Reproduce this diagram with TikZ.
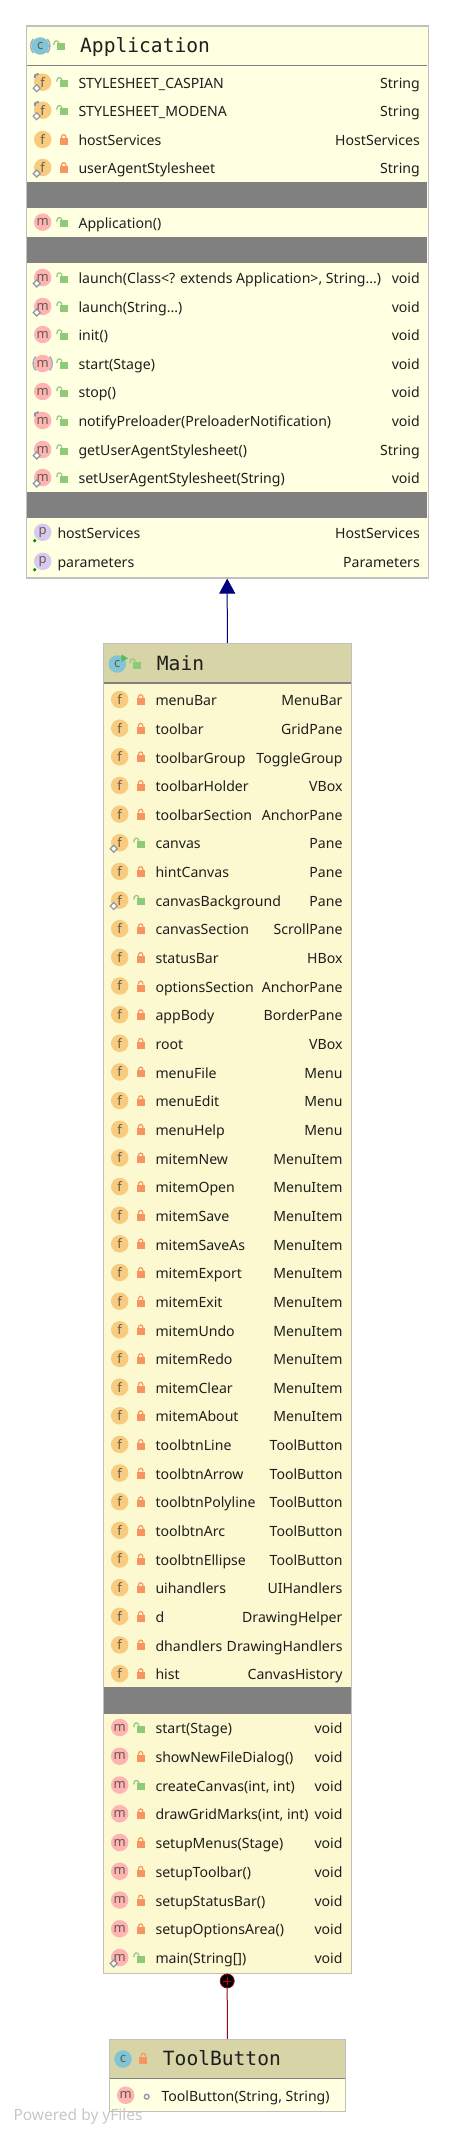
\documentclass[tikz,border=0pt]{standalone}
\usepackage{fontspec}
\usepackage{tikz}
\usetikzlibrary{arrows.meta}
\setmainfont{Noto Sans}
\setmonofont{DejaVu Sans Mono}

\definecolor{boxpale}{HTML}{FFFFE2}
\definecolor{boxcream}{HTML}{FCF9D0}
\definecolor{boxhead}{HTML}{D7D4A8}
\definecolor{boxedge}{HTML}{C0C0C0}
\definecolor{barfill}{HTML}{808080}
\definecolor{iconf}{HTML}{F8CB7E}
\definecolor{iconm}{HTML}{FFB3B3}
\definecolor{iconp}{HTML}{D8C9F0}
\definecolor{iconc}{HTML}{7FC5D5}
\definecolor{icontext}{HTML}{665C50}
\definecolor{lockgreen}{HTML}{8FC97A}
\definecolor{lockorange}{HTML}{F79560}
\definecolor{markgray}{HTML}{8C96A8}
\definecolor{inkdark}{HTML}{1E1E1E}
\definecolor{linkred}{HTML}{8B0A14}
\definecolor{linknavy}{HTML}{000080}
\definecolor{rungreen}{HTML}{5FB85F}

\tikzset{
    classbox/.style = {draw = boxedge, line width = 1.2pt, inner sep = 0pt},
    classtitle/.style = {anchor = base west, inner sep = 0pt, text = inkdark, font = \ttfamily\fontsize{19.6}{20}\selectfont},
    membername/.style = {anchor = base west, inner sep = 0pt, text = inkdark, font = \fontsize{14.1}{16}\selectfont},
    membertype/.style = {anchor = base east, inner sep = 0pt, text = inkdark, font = \fontsize{14.1}{16}\selectfont},
    icon/.style = {circle, fill = icon#1, minimum size = 17.5pt, inner sep = 0pt, text = icontext, font = \fontsize{13}{13}\selectfont},
    openlock/.pic = {
        \fill [lockgreen] (-4, -3.5) rectangle (4, 3.5);
        \draw [lockgreen, line width = 1.2pt] (-7, -2) .. controls (-7, -7) and (-2.5, -7.5) .. (-1.7, -3.5);
    },
    shutlock/.pic = {
        \fill [lockorange] (-4, -3) rectangle (4, 4);
        \draw [lockorange, line width = 1.2pt] (-2.4, -3) .. controls (-2.4, -7.5) and (2.4, -7.5) .. (2.4, -3);
    },
    dotlock/.pic = {
        \draw [markgray, line width = 1.3pt] (0, 0) circle (2.4);
    },
}

% one row of a class box: name, y, icon letter, lock, text, type
\newcommand{\memberrow}[6]{
    \node (#1icon) [icon = #3] at (16, {#2 - 1.5}) {#3};
    \pic at (37, #2) {#4};
    \node (#1name) [membername] at (51.6, {#2 + 4.7}) {#5};
    \node (#1type) [membertype] at (\typex, {#2 + 4.7}) {#6};
}
\newcommand{\staticmark}[1]{
    \draw [markgray, line width = 1.2pt, fill = boxpale] ([shift = {(-9.5, 6)}] #1.center) -- ([shift = {(-6, 2.5)}] #1.center) -- ([shift = {(-2.5, 6)}] #1.center) -- ([shift = {(-6, 9.5)}] #1.center) -- cycle;
}
\newcommand{\pinmark}[1]{
    \draw [markgray, line width = 2pt] ([shift = {(-8, -4)}] #1.center) -- ([shift = {(-7.5, -7)}] #1.center) -- ([shift = {(-4, -8.5)}] #1.center);
}
\newcommand{\abstractmark}[1]{
    \draw [markgray!80, line width = 1.4pt] ([shift = {(-7, -7)}] #1.center) .. controls ([shift = {(-10.5, -3)}] #1.center) and ([shift = {(-10.5, 3)}] #1.center) .. ([shift = {(-7, 7)}] #1.center);
    \draw [markgray!80, line width = 1.4pt] ([shift = {(7, -7)}] #1.center) .. controls ([shift = {(10.5, -3)}] #1.center) and ([shift = {(10.5, 3)}] #1.center) .. ([shift = {(7, 7)}] #1.center);
}
\newcommand{\propertydot}[1]{
    \fill [green!55!black] ([shift = {(-8, 8.4)}] #1.center) circle (1.8);
}

\begin{document}
\begin{tikzpicture}[x = 1pt, y = -1pt]
    \useasboundingbox (0, 0) rectangle (454, 2138);

    \begin{scope}[shift = {(26.7, 0)}]
        \def\typex{393.3}
        \node (application) [classbox, fill = boxpale, minimum width = 402pt, minimum height = 552pt] at (200.5, 302) {};
        \draw [barfill, line width = .8pt] (.5, 65.5) -- (400.5, 65.5);
        \node (appicon) [icon = c] at (13.6, 46) {c};
        \abstractmark{appicon}
        \pic at (34, 47) {openlock};
        \node (apptitle) [classtitle] at (53.3, 52.7) {Application};

        \memberrow{caspian}{83.7}{f}{openlock}{STYLESHEET\_CASPIAN}{String}
        \memberrow{modena}{111.7}{f}{openlock}{STYLESHEET\_MODENA}{String}
        \memberrow{hostfield}{141}{f}{shutlock}{hostServices}{HostServices}
        \memberrow{agentfield}{169}{f}{shutlock}{userAgentStylesheet}{String}
        \fill [barfill] (.5, 182) rectangle (400.5, 208);

        \memberrow{ctor}{223.7}{m}{openlock}{Application()}{}
        \fill [barfill] (.5, 237) rectangle (400.5, 263);

        \memberrow{launcha}{279}{m}{openlock}{launch(Class<? extends Application>, String...)}{void}
        \memberrow{launchb}{308}{m}{openlock}{launch(String...)}{void}
        \memberrow{init}{336}{m}{openlock}{init()}{void}
        \memberrow{start}{365}{m}{openlock}{start(Stage)}{void}
        \memberrow{stop}{393}{m}{openlock}{stop()}{void}
        \memberrow{notify}{422}{m}{openlock}{notifyPreloader(PreloaderNotification)}{void}
        \memberrow{getagent}{451}{m}{openlock}{getUserAgentStylesheet()}{String}
        \memberrow{setagent}{479}{m}{openlock}{setUserAgentStylesheet(String)}{void}
        \fill [barfill] (.5, 492) rectangle (400.5, 518);

        \node (prophosticon) [icon = p] at (16, 532.3) {p};
        \node (prophostname) [membername] at (30.6, 538.7) {hostServices};
        \node (prophosttype) [membertype] at (\typex, 538.7) {HostServices};
        \node (propparaicon) [icon = p] at (16, 561.3) {p};
        \node (propparaname) [membername] at (30.6, 567.7) {parameters};
        \node (propparatype) [membertype] at (\typex, 567.7) {Parameters};
        \propertydot{prophosticon}
        \propertydot{propparaicon}

        \foreach \n in {caspian, modena} {
            \pinmark{\n icon}
        }
        \pinmark{notifyicon}
        \foreach \n in {caspian, modena, agentfield, launcha, launchb, getagent, setagent} {
            \staticmark{\n icon}
        }
        \abstractmark{starticon}
    \end{scope}

    \begin{scope}[shift = {(103.7, 0)}]
        \def\typex{239}
        \node (main) [classbox, fill = boxcream, minimum width = 248pt, minimum height = 1330pt] at (123.6, 1308.5) {};
        \fill [boxhead] (.5, 644.3) rectangle (247, 683);
        \draw [barfill, line width = 1.4pt] (.5, 683) -- (247, 683);
        \node (mainicon) [icon = c] at (13.6, 664) {c};
        \fill [rungreen] (17.6, 654.3) -- (24.3, 658.3) -- (17.6, 662) -- cycle;
        \pic at (33.3, 665) {openlock};
        \node (maintitle) [classtitle] at (53, 670.7) {Main};

        \foreach \lab/\typ/\vis [count = \k] in {
            menuBar/MenuBar/shutlock, toolbar/GridPane/shutlock, toolbarGroup/ToggleGroup/shutlock,
            toolbarHolder/VBox/shutlock, toolbarSection/AnchorPane/shutlock, canvas/Pane/openlock,
            hintCanvas/Pane/shutlock, canvasBackground/Pane/openlock, canvasSection/ScrollPane/shutlock,
            statusBar/HBox/shutlock, optionsSection/AnchorPane/shutlock, appBody/BorderPane/shutlock,
            root/VBox/shutlock, menuFile/Menu/shutlock, menuEdit/Menu/shutlock, menuHelp/Menu/shutlock,
            mitemNew/MenuItem/shutlock, mitemOpen/MenuItem/shutlock, mitemSave/MenuItem/shutlock,
            mitemSaveAs/MenuItem/shutlock, mitemExport/MenuItem/shutlock, mitemExit/MenuItem/shutlock,
            mitemUndo/MenuItem/shutlock, mitemRedo/MenuItem/shutlock, mitemClear/MenuItem/shutlock,
            mitemAbout/MenuItem/shutlock, toolbtnLine/ToolButton/shutlock, toolbtnArrow/ToolButton/shutlock,
            toolbtnPolyline/ToolButton/shutlock, toolbtnArc/ToolButton/shutlock, toolbtnEllipse/ToolButton/shutlock,
            uihandlers/UIHandlers/shutlock, d/DrawingHelper/shutlock, dhandlers/DrawingHandlers/shutlock,
            hist/CanvasHistory/shutlock} {
            \pgfmathsetmacro{\rowy}{701 + 28.65 * (\k - 1)}
            \memberrow{field\k}{\rowy}{f}{\vis}{\lab}{\typ}
        }
        \fill [barfill] (.5, 1687) rectangle (247, 1713.7);

        \foreach \lab/\vis [count = \k] in {
            start(Stage)/openlock, showNewFileDialog()/shutlock, {createCanvas(int, int)}/openlock,
            {drawGridMarks(int, int)}/shutlock, setupMenus(Stage)/shutlock, setupToolbar()/shutlock,
            setupStatusBar()/shutlock, setupOptionsArea()/shutlock, main(String[])/openlock} {
            \pgfmathsetmacro{\rowy}{1729 + 28.75 * (\k - 1)}
            \memberrow{meth\k}{\rowy}{m}{\vis}{\lab}{void}
        }
        \foreach \n in {field6, field8, meth9} {
            \staticmark{\n icon}
        }
    \end{scope}

    \begin{scope}[shift = {(109.7, 0)}]
        \def\typex{230}
        \node (toolbutton) [classbox, fill = boxpale, minimum width = 236pt, minimum height = 72pt] at (117.7, 2075.4) {};
        \fill [boxhead] (.5, 2040.3) rectangle (235, 2078);
        \draw [barfill, line width = .8pt] (.5, 2078) -- (235, 2078);
        \node (tooliconc) [icon = c] at (13.3, 2059) {c};
        \pic at (33.6, 2059.5) {shutlock};
        \node (tooltitle) [classtitle] at (53, 2065.7) {ToolButton};
        \memberrow{toolctor}{2096.7}{m}{dotlock}{ToolButton(String, String)}{}
    \end{scope}

    \draw [linknavy, line width = 1pt, -{Triangle[length = 15pt, width = 16pt]}] (main.north) -- (application.south);
    \node (composed) [circle, fill = black, draw = linkred, line width = .8pt, minimum size = 14pt, inner sep = 0pt] at (227.2, 1981) {};
    \draw [linkred, line width = 1pt] (composed.south) -- (toolbutton.north);
    \draw [red!80!black, line width = .8pt] (223.2, 1981) -- (231.2, 1981) (227.2, 1977) -- (227.2, 1985);

    \node (poweredby) [anchor = west, inner sep = 0pt, text = black!22, font = \fontsize{15.5}{16}\selectfont] at (13.3, 2116.5) {Powered by yFiles};
\end{tikzpicture}
\end{document}
